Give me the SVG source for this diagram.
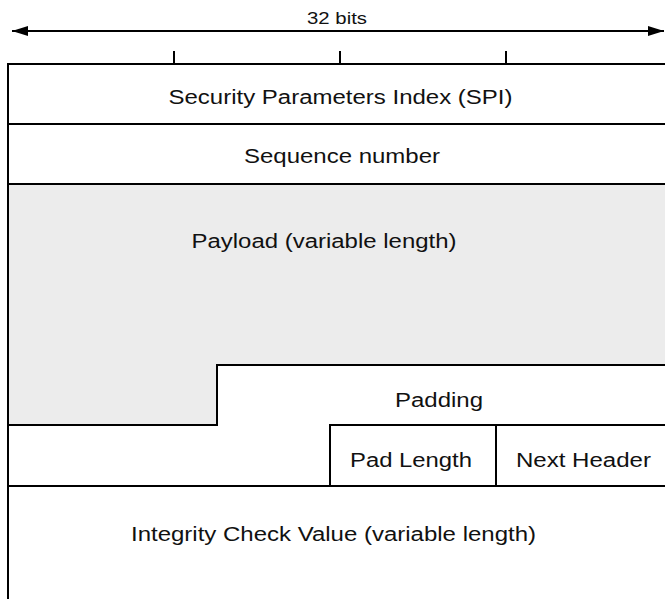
<svg xmlns="http://www.w3.org/2000/svg" width="665" height="599" viewBox="0 0 665 599">
<style>
.ln{stroke:#000;stroke-width:2;fill:none}
.t{font-family:"Liberation Sans",Arial,sans-serif;font-size:20px;fill:#111;text-anchor:middle}
.s{font-size:17px}
</style>
<defs>
<marker id="ah" viewBox="0 0 16 10" refX="16" refY="5" markerWidth="16" markerHeight="10" markerUnits="userSpaceOnUse" orient="auto-start-reverse">
<path d="M0,0 L16,5 L0,10 z" fill="#000"/>
</marker>
</defs>
<rect width="665" height="599" fill="#fff"/>
<g id="scale">
<line class="ln" x1="12" y1="31" x2="664" y2="31" marker-start="url(#ah)" marker-end="url(#ah)"/>
<text class="t s" x="337" y="23.5" textLength="60" lengthAdjust="spacingAndGlyphs">32 bits</text>
<line class="ln" x1="174" y1="51" x2="174" y2="64"/>
<line class="ln" x1="340" y1="51" x2="340" y2="64"/>
<line class="ln" x1="506" y1="51" x2="506" y2="64"/>
</g>
<g id="payload">
<path d="M8,184 H666 V365 H217 V425 H8 Z" fill="#ececec"/>
<text class="t" x="324" y="248" textLength="265" lengthAdjust="spacingAndGlyphs">Payload (variable length)</text>
</g>
<g id="spi"><text class="t" x="340.5" y="104" textLength="344" lengthAdjust="spacingAndGlyphs">Security Parameters Index (SPI)</text></g>
<g id="seq"><text class="t" x="342" y="163" textLength="196" lengthAdjust="spacingAndGlyphs">Sequence number</text></g>
<g id="padding"><text class="t" x="439" y="407" textLength="88" lengthAdjust="spacingAndGlyphs">Padding</text></g>
<g id="padlen"><text class="t" x="411" y="467" textLength="122" lengthAdjust="spacingAndGlyphs">Pad Length</text></g>
<g id="nexthdr"><text class="t" x="583.5" y="467" textLength="135" lengthAdjust="spacingAndGlyphs">Next Header</text></g>
<g id="icv"><text class="t" x="333.5" y="541" textLength="405" lengthAdjust="spacingAndGlyphs">Integrity Check Value (variable length)</text></g>
<g id="lines">
<line class="ln" x1="8" y1="64" x2="666" y2="64"/>
<line class="ln" x1="8" y1="63" x2="8" y2="600"/>
<line class="ln" x1="8" y1="124" x2="666" y2="124"/>
<line class="ln" x1="8" y1="184" x2="666" y2="184"/>
<path class="ln" d="M666,365 H217 V425 H8"/>
<path class="ln" d="M666,425 H330 V486"/>
<line class="ln" x1="496" y1="425" x2="496" y2="486"/>
<line class="ln" x1="8" y1="486" x2="666" y2="486"/>
</g>
</svg>
